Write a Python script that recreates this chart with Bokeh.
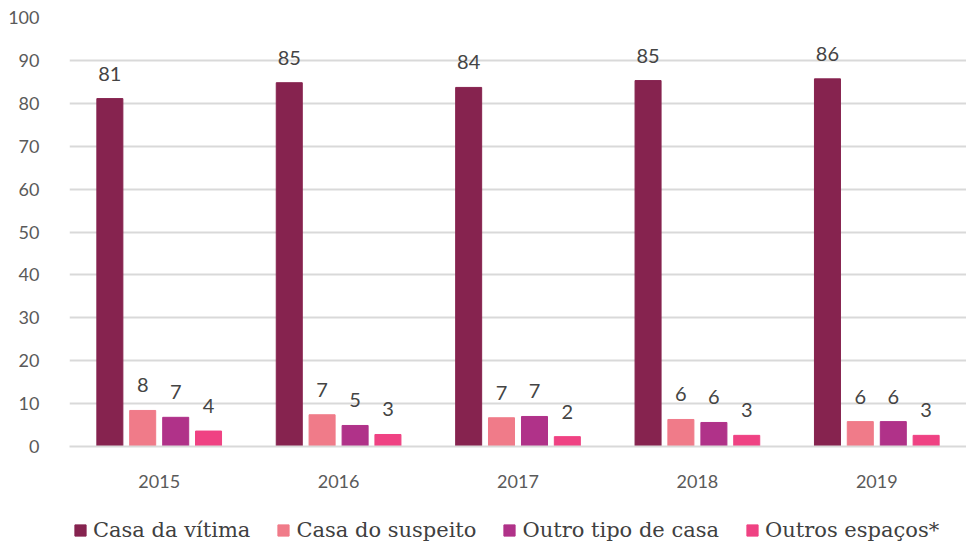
from bokeh.plotting import figure
from bokeh.layouts import column
from bokeh.models import ColumnDataSource, Legend, LegendItem, FixedTicker, Range1d
from bokeh.transform import dodge
from bokeh.core.properties import value
from bokeh.embed import file_html
from bokeh.resources import INLINE

years = ["2015", "2016", "2017", "2018", "2019"]
series_names = ["Casa da vítima", "Casa do suspeito", "Outro tipo de casa", "Outros espaços*"]
casa_vitima = [81.1, 84.8, 83.7, 85.3, 85.7]
casa_suspeito = [8.4, 7.4, 6.7, 6.3, 5.8]
outro_tipo = [6.8, 4.9, 7.0, 5.6, 5.8]
outros_espacos = [3.6, 2.8, 2.3, 2.6, 2.6]
lab_vitima = ["81", "85", "84", "85", "86"]
lab_suspeito = ["8", "7", "7", "6", "6"]
lab_outro = ["7", "5", "7", "6", "6"]
lab_outros = ["4", "3", "2", "3", "3"]
y_ticks = [0, 10, 20, 30, 40, 50, 60, 70, 80, 90, 100]

colors = ["#86234F", "#F07B89", "#B03289", "#EF4283"]
series = [casa_vitima, casa_suspeito, outro_tipo, outros_espacos]
labels = [lab_vitima, lab_suspeito, lab_outro, lab_outros]
offsets = [-0.275, -0.092, 0.092, 0.275]

p = figure(x_range=years, y_range=Range1d(0, 100), width=966, height=498,
           output_backend="svg", toolbar_location=None,
           min_border_top=17, min_border_left=69, min_border_right=0, min_border_bottom=52)
p.outline_line_color = None

for name, vals, labs, col, off in zip(series_names, series, labels, colors, offsets):
    src = ColumnDataSource(dict(year=years, v=vals, lab=labs))
    p.vbar(x=dodge("year", off, range=p.x_range), top="v", width=0.145,
           source=src, fill_color=col, line_color=col)
    p.text(x=dodge("year", off, range=p.x_range), y="v", text="lab", source=src,
           text_align="center", text_baseline="bottom", y_offset=-18,
           text_font=value("Lato"), text_font_size="20px", text_color="#444444")

p.yaxis.ticker = FixedTicker(ticks=y_ticks)
p.yaxis.axis_line_color = None
p.yaxis.major_tick_line_color = None
p.yaxis.minor_tick_line_color = None
p.yaxis.major_label_text_font = "Lato"
p.yaxis.major_label_text_font_size = "18px"
p.yaxis.major_label_text_color = "#5a5a5a"
p.yaxis.major_label_standoff = 24

p.xaxis.axis_line_color = "#d9d9d9"
p.xaxis.axis_line_width = 2
p.xaxis.major_tick_line_color = None
p.xaxis.major_label_text_font = "Lato"
p.xaxis.major_label_text_font_size = "18px"
p.xaxis.major_label_text_color = "#5a5a5a"
p.xaxis.major_label_standoff = 22

p.xgrid.grid_line_color = None
p.ygrid.grid_line_color = "#d9d9d9"
p.ygrid.grid_line_width = 2

# legend strip below the chart (swatches are legend-only glyphs outside the visible range)
lf = figure(width=966, height=44, x_range=Range1d(0, 1), y_range=Range1d(0, 1),
            x_axis_type=None, y_axis_type=None, output_backend="svg",
            toolbar_location=None, min_border=0)
lf.outline_line_color = None
lf.grid.visible = False
items = []
for name, col in zip(series_names, colors):
    r = lf.vbar(x=[-10], top=[-10], width=1, fill_color=col, line_color=col)
    items.append(LegendItem(label=name, renderers=[r]))
legend = Legend(items=items, orientation="horizontal", location=(4, 0),
                label_text_font="DejaVu Serif", label_text_font_size="21px",
                label_text_color="#404040", glyph_width=14, glyph_height=14,
                label_standoff=6, spacing=26, border_line_color=None,
                background_fill_alpha=0, margin=0, padding=0)
lf.add_layout(legend, "center")

layout = column(p, lf, spacing=0)
open("out.html", "w").write(file_html(layout, INLINE))
